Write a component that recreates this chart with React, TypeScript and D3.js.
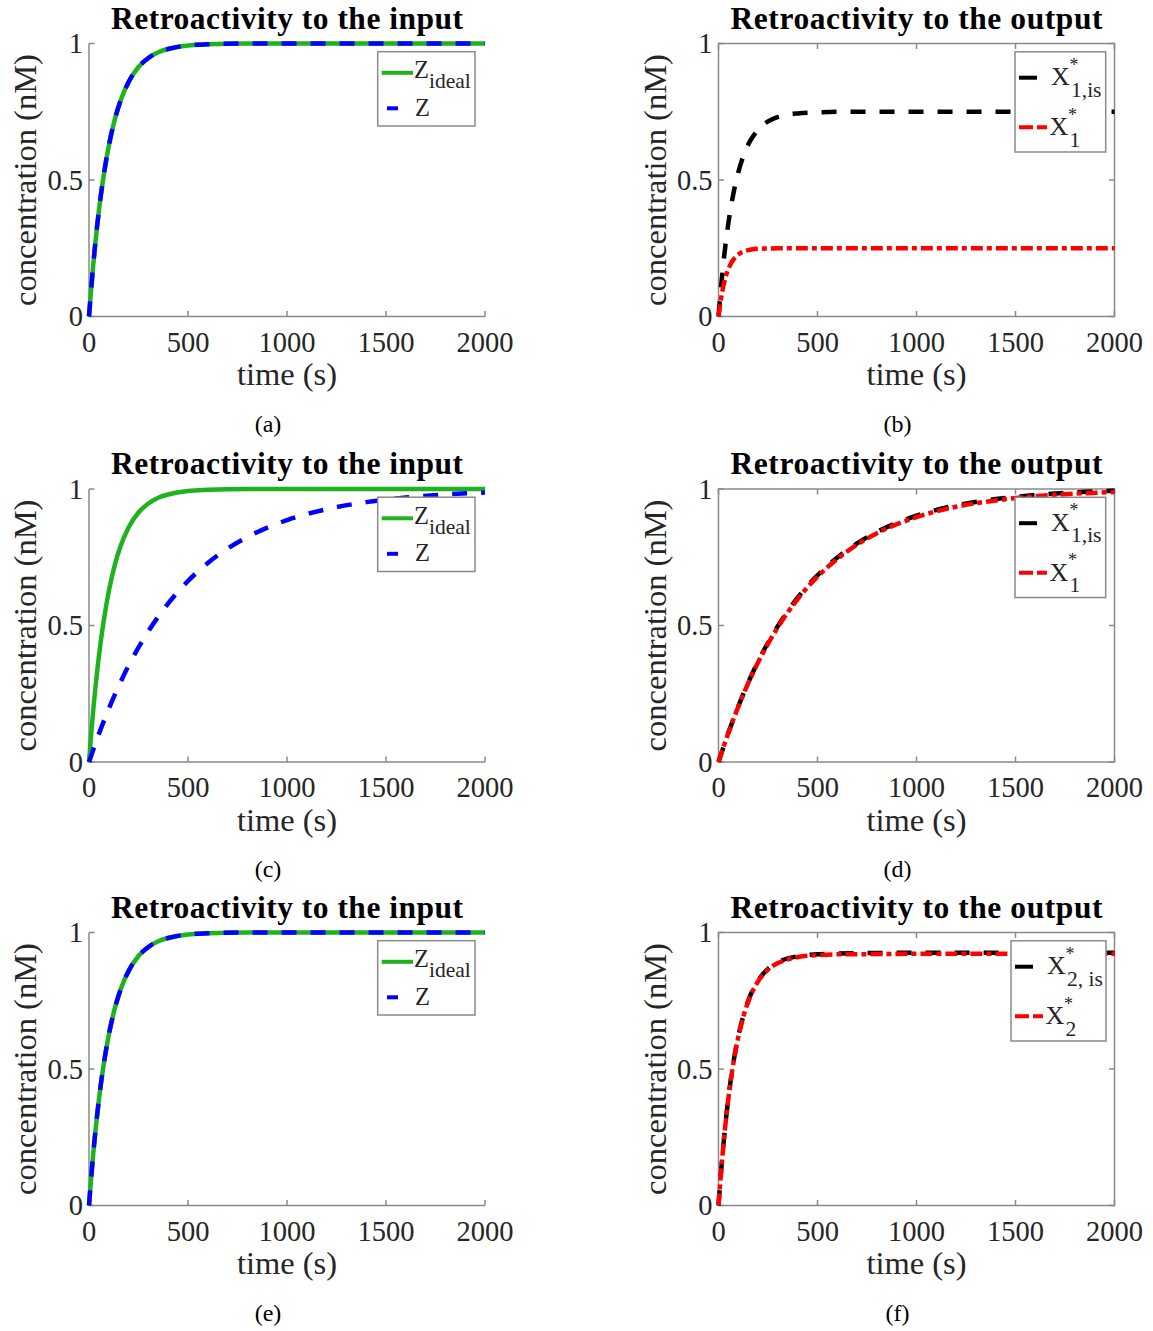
import React from "react";
import * as d3 from "d3";

// time grids (s)
const tFast = [0, 10, 20, 30, 40, 60, 80, 100, 130, 160, 200, 250, 300, 350, 400, 500, 600, 800, 1000, 1500, 2000];
const tSlow = [0, 50, 100, 150, 200, 300, 400, 500, 600, 700, 800, 1000, 1200, 1400, 1600, 1800, 2000];

// (a) retroactivity to the input
const zIdealA = [0, 0.093, 0.178, 0.255, 0.324, 0.445, 0.543, 0.625, 0.721, 0.792, 0.859, 0.914, 0.947, 0.968, 0.98, 0.993, 0.997, 1, 1, 1, 1];
const zA = [0, 0.093, 0.178, 0.255, 0.324, 0.445, 0.543, 0.625, 0.721, 0.792, 0.859, 0.914, 0.947, 0.968, 0.98, 0.993, 0.997, 1, 1, 1, 1];
// (b) retroactivity to the output
const x1isB = [0, 0.086, 0.162, 0.23, 0.29, 0.389, 0.467, 0.528, 0.597, 0.643, 0.684, 0.715, 0.731, 0.74, 0.744, 0.748, 0.75, 0.75, 0.75, 0.75, 0.75];
const x1B = [0, 0.053, 0.095, 0.128, 0.154, 0.19, 0.213, 0.227, 0.239, 0.2445, 0.248, 0.249, 0.25, 0.25, 0.25, 0.25, 0.25, 0.25, 0.25, 0.25, 0.25];
// (c)
const zIdealC = [0, 0.093, 0.178, 0.255, 0.324, 0.445, 0.543, 0.625, 0.721, 0.792, 0.859, 0.914, 0.947, 0.968, 0.98, 0.993, 0.997, 1, 1, 1, 1];
const zC = [0, 0.103, 0.195, 0.278, 0.353, 0.479, 0.581, 0.663, 0.729, 0.782, 0.824, 0.886, 0.926, 0.952, 0.969, 0.98, 0.987];
// (d)
const x1isD = [0, 0.107, 0.204, 0.291, 0.368, 0.498, 0.602, 0.684, 0.749, 0.801, 0.843, 0.902, 0.94, 0.963, 0.978, 0.988, 0.994];
const x1D = [0, 0.107, 0.203, 0.289, 0.365, 0.494, 0.597, 0.679, 0.744, 0.796, 0.838, 0.897, 0.935, 0.958, 0.974, 0.983, 0.989];
// (e)
const zIdealE = [0, 0.093, 0.178, 0.255, 0.324, 0.445, 0.543, 0.625, 0.721, 0.792, 0.859, 0.914, 0.947, 0.968, 0.98, 0.993, 0.997, 1, 1, 1, 1];
const zE = [0, 0.093, 0.178, 0.255, 0.324, 0.445, 0.543, 0.625, 0.721, 0.792, 0.859, 0.914, 0.947, 0.968, 0.98, 0.993, 0.997, 1, 1, 1, 1];
// (f)
const x2isF = [0, 0.097, 0.184, 0.262, 0.332, 0.45, 0.544, 0.62, 0.706, 0.768, 0.824, 0.867, 0.891, 0.905, 0.913, 0.92, 0.923, 0.925, 0.926, 0.926, 0.926];
const x2F = [0, 0.096, 0.183, 0.261, 0.331, 0.448, 0.542, 0.617, 0.703, 0.765, 0.821, 0.864, 0.888, 0.902, 0.91, 0.917, 0.92, 0.921, 0.922, 0.922, 0.922];

const xTicks = [0, 500, 1000, 1500, 2000];
const yTicks = [0, 0.5, 1];
const yTickLabels = ["0", "0.5", "1"];

const SERIF = "'Liberation Serif', 'Times New Roman', serif";
const AX = "#8a8a8a";
const TXT = "#262626";

const colX = [89, 718.5];
const rowY = [43.5, 489, 932.5];
const axW = 396;
const axH = 273;

const x = d3.scaleLinear().domain([0, 2000]).range([0, axW]);
const y = d3.scaleLinear().domain([0, 1]).range([axH, 0]);
const line = d3
  .line<[number, number]>()
  .x((d) => x(d[0]))
  .y((d) => y(d[1]))
  .curve(d3.curveMonotoneX);

const zip = (t: number[], v: number[]) => t.map((d, i) => [d, v[i]] as [number, number]);

const STYLES: Record<string, { stroke: string; dash?: string }> = {
  ideal: { stroke: "#1fb21f" },
  z: { stroke: "#0000ff", dash: "15,14" },
  is: { stroke: "#000000", dash: "15,14" },
  x: { stroke: "#ff0000", dash: "12,4,5,4" },
};

const panels = [
  { id: "a", col: 0, row: 0, kind: "input", series: [["ideal", tFast, zIdealA], ["z", tFast, zA]] },
  { id: "b", col: 1, row: 0, kind: "output", idx: "1", sub: "1,is", series: [["is", tFast, x1isB], ["x", tFast, x1B]] },
  { id: "c", col: 0, row: 1, kind: "input", series: [["ideal", tFast, zIdealC], ["z", tSlow, zC]] },
  { id: "d", col: 1, row: 1, kind: "output", idx: "1", sub: "1,is", series: [["is", tSlow, x1isD], ["x", tSlow, x1D]] },
  { id: "e", col: 0, row: 2, kind: "input", series: [["ideal", tFast, zIdealE], ["z", tFast, zE]] },
  { id: "f", col: 1, row: 2, kind: "output", idx: "2", sub: "2, is", series: [["is", tFast, x2isF], ["x", tFast, x2F]] },
];

const InputLegend = () => (
  <g>
    <rect x={288.7} y={8.2} width={97.3} height={74.3} fill="#fff" stroke={AX} strokeWidth={1.5} />
    <line x1={292.7} x2={324} y1={29.3} y2={29.3} stroke={STYLES.ideal.stroke} strokeWidth={4} />
    <text x={325} y={34.8} fontSize={24.5} fill={TXT}>Z</text>
    <text x={340} y={44.8} fontSize={21.5} fill={TXT}>ideal</text>
    <line x1={298} x2={309} y1={64.8} y2={64.8} stroke={STYLES.z.stroke} strokeWidth={4} />
    <text x={326} y={72.3} fontSize={24.5} fill={TXT}>Z</text>
  </g>
);

const OutputLegend = ({ idx, sub }: { idx: string; sub: string }) => {
  const wide = sub.length > 4;
  const L = wide ? 292.5 : 296.5;
  const w = wide ? 95 : 90.7;
  const xText = L + 36;
  return (
    <g>
      <rect x={L} y={8.3} width={w} height={100.2} fill="#fff" stroke={AX} strokeWidth={1.5} />
      <line x1={L + 4} x2={L + 22} y1={34.2} y2={34.2} stroke="#000" strokeWidth={4} />
      <text x={xText} y={41.5} fontSize={26} fill={TXT}>X</text>
      <text x={xText + 18.5} y={27} fontSize={18} fill={TXT}>*</text>
      <text x={xText + 20} y={53.2} fontSize={21.5} fill={TXT}>{sub}</text>
      <line x1={L + 4} x2={L + 33} y1={83.8} y2={83.8} stroke="#ff0000" strokeWidth={4} strokeDasharray="14,4,10,40" />
      <text x={xText - 1.5} y={91.5} fontSize={26} fill={TXT}>X</text>
      <text x={xText + 17} y={77} fontSize={18} fill={TXT}>*</text>
      <text x={xText + 18.5} y={103.2} fontSize={21.5} fill={TXT}>{idx}</text>
    </g>
  );
};

const Panel = ({ p }: { p: any }) => {
  const x0 = colX[p.col];
  const y0 = rowY[p.row];
  const boxed = p.col === 1;
  const tl = 5.5;
  const title = p.kind === "input" ? "Retroactivity to the input" : "Retroactivity to the output";
  return (
    <g transform={`translate(${x0},${y0})`} fontFamily={SERIF}>
      {/* axes */}
      {boxed ? (
        <rect x={0} y={0} width={axW} height={axH} fill="none" stroke={AX} strokeWidth={1.5} />
      ) : (
        <path d={`M0,0V${axH}H${axW}`} fill="none" stroke={AX} strokeWidth={1.5} />
      )}
      {xTicks.map((t) => (
        <g key={"xt" + t}>
          <line x1={x(t)} x2={x(t)} y1={axH} y2={axH - tl} stroke={AX} strokeWidth={1.5} />
          {boxed && <line x1={x(t)} x2={x(t)} y1={0} y2={tl} stroke={AX} strokeWidth={1.5} />}
          <text x={x(t)} y={axH + 35} textAnchor="middle" fontSize={28.5} fill={TXT}>
            {t}
          </text>
        </g>
      ))}
      {yTicks.map((t, i) => (
        <g key={"yt" + t}>
          <line x1={0} x2={tl} y1={y(t)} y2={y(t)} stroke={AX} strokeWidth={1.5} />
          {boxed && <line x1={axW} x2={axW - tl} y1={y(t)} y2={y(t)} stroke={AX} strokeWidth={1.5} />}
          <text x={-6} y={y(t) + 9.5} textAnchor="end" fontSize={28.5} fill={TXT}>
            {yTickLabels[i]}
          </text>
        </g>
      ))}
      {/* series */}
      {p.series.map(([k, t, v]: [string, number[], number[]]) => (
        <path
          key={k}
          d={line(zip(t, v)) || ""}
          fill="none"
          stroke={STYLES[k].stroke}
          strokeWidth={4.5}
          strokeDasharray={STYLES[k].dash}
        />
      ))}
      {/* labels */}
      <text
        x={axW / 2}
        y={-15}
        textAnchor="middle"
        fontSize={31.5}
        fontWeight="bold"
        fill="#000"
        textLength={p.kind === "input" ? 352 : 372}
        lengthAdjust="spacing"
      >
        {title}
      </text>
      <text x={axW / 2} y={axH + 68.5} textAnchor="middle" fontSize={32.5} fill={TXT}>
        time (s)
      </text>
      <text
        transform={`translate(-53,${axH / 2}) rotate(-90)`}
        textAnchor="middle"
        fontSize={32.5}
        fill={TXT}
      >
        concentration (nM)
      </text>
      {p.kind === "input" ? <InputLegend /> : <OutputLegend idx={p.idx} sub={p.sub} />}
      <text x={axW / 2 - 19} y={axH + 115} textAnchor="middle" fontSize={24} fill="#000">
        ({p.id})
      </text>
    </g>
  );
};

export default function App() {
  return (
    <svg
      width={1153}
      height={1331}
      style={{ position: "absolute", left: 0, top: 0, background: "#fff" }}
    >
      <rect width={1153} height={1331} fill="#fff" />
      {panels.map((p) => (
        <Panel key={p.id} p={p} />
      ))}
    </svg>
  );
}
